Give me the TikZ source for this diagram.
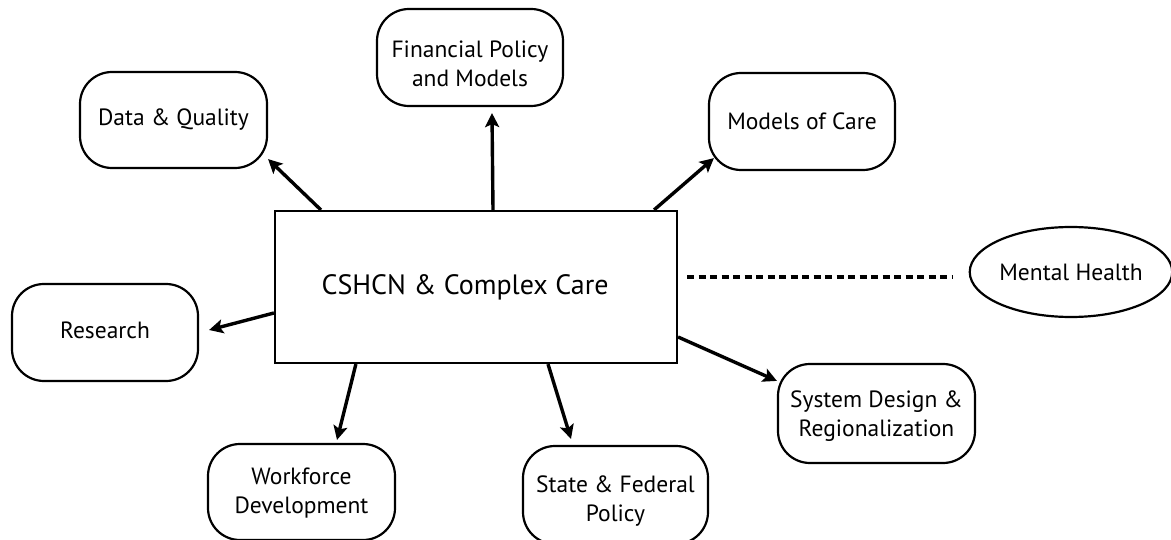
\documentclass[tikz,border=0pt]{standalone}
\usepackage{fontspec}
\setmainfont{PT Sans}
\usetikzlibrary{arrows.meta,shapes.geometric}
\newcommand\lowerlines[3]{\raisebox{#1}[\height][\depth]{\begin{tabular}{@{}c@{}}#2\\#3\end{tabular}}}
\begin{document}
\begin{tikzpicture}[x=1pt,y=-1pt,
  topic/.style={draw=black, line width=2.2pt, rounded corners=32pt, align=center,
    font=\fontsize{23.5}{29}\selectfont, inner sep=0pt},
  hub/.style={draw=black, line width=2.2pt, minimum width=402pt, minimum height=152pt,
    inner sep=0pt, font=\fontsize{28}{33}\selectfont},
  oval/.style={draw=black, line width=2.2pt, ellipse, minimum width=200pt, minimum height=90pt,
    inner sep=0pt, font=\fontsize{23.5}{29}\selectfont},
  arr/.style={line width=3.4pt, -{Stealth[length=14pt,width=14pt,inset=3pt]}},
  dots/.style={line width=3.4pt, dash pattern=on 7pt off 4.5pt}]
\useasboundingbox (0,0) rectangle (1171,540);
\node[hub] (c) at (476,287) {\hspace*{-22pt}CSHCN \& Complex Care};
\node[topic, minimum width=187pt, minimum height=96pt] (dq) at (173.5,120) {Data \& Quality};
\node[topic, minimum width=186pt, minimum height=97pt] (fp) at (470,57.5) {\lowerlines{-9pt}{Financial Policy}{and Models}};
\node[topic, minimum width=186pt, minimum height=97pt] (mc) at (802,121.5) {Models of Care};
\node[topic, minimum width=186pt, minimum height=97pt] (re) at (105,332.5) {\raisebox{2pt}[\height][\depth]{Research}};
\node[topic, minimum width=187pt, minimum height=96pt] (wf) at (301.5,492) {\lowerlines{-1.5pt}{Workforce}{Development}};
\node[topic, minimum width=185pt, minimum height=98pt] (sf) at (615.5,495) {\lowerlines{-6.5pt}{State \& Federal}{Policy}};
\node[topic, minimum width=197pt, minimum height=99pt] (sd) at (876.5,413.5) {\lowerlines{-3pt}{System Design \&}{Regionalization}};
\node[oval] (mh) at (1071,272) {Mental Health};
\draw[arr] ([xshift=47pt]c.north west) -- ([yshift=10pt]dq.south east);
\draw[arr] ([xshift=17pt]c.north) -- ([xshift=22pt,yshift=-6pt]fp.south);
\draw[arr] ([xshift=-24pt]c.north east) -- ([xshift=6pt,yshift=13pt]mc.south west);
\draw[arr] ([yshift=-26pt]c.west) -- ([xshift=10pt,yshift=2.5pt]re.east);
\draw[arr] ([xshift=82pt]c.south west) -- ([xshift=35.5pt,yshift=3pt]wf.north);
\draw[arr] ([xshift=72pt]c.south) -- ([xshift=-44.5pt,yshift=6pt]sf.north);
\draw[arr] ([yshift=-50pt]c.east) -- ([yshift=-18pt]sd.north west);
\draw[dots] ([xshift=9pt,yshift=10pt]c.east) -- ([xshift=-16pt,yshift=-5pt]mh.west);
\end{tikzpicture}
\end{document}
